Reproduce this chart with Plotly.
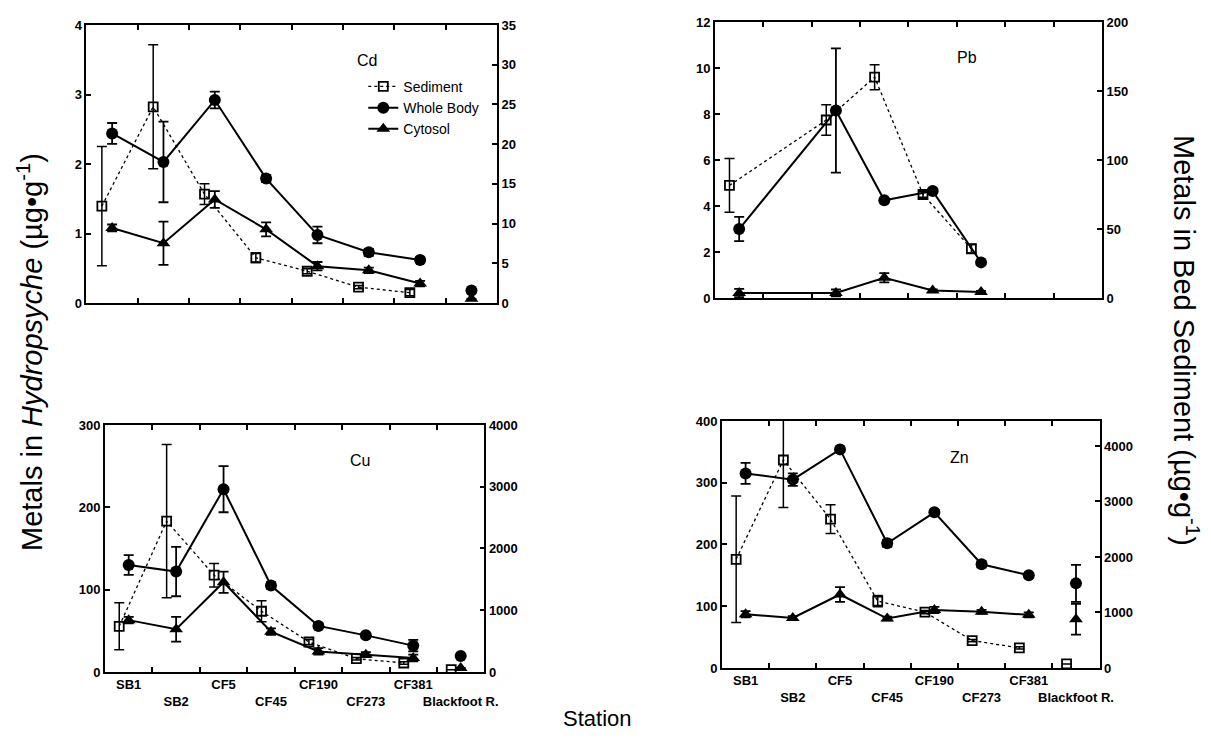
import plotly.graph_objects as go

# Sampling stations along the river (upstream -> downstream, plus reference site)
STATIONS = ["SB1", "SB2", "CF5", "CF45", "CF190", "CF273", "CF381", "Blackfoot R."]

# ---- Cd (Hydropsyche: ug/g, sediment: ug/g) ----
cd_whole = [2.44, 2.03, 2.92, 1.79, 0.98, 0.73, 0.62, 0.18]
cd_whole_err = [0.15, 0.58, 0.12, 0.05, 0.12, 0.05, 0.04, 0.0]
cd_cyto = [1.08, 0.86, 1.49, 1.06, 0.53, 0.47, 0.28, 0.06]
cd_cyto_err = [0.05, 0.31, 0.12, 0.10, 0.06, 0.04, 0.04, 0.0]
cd_sed = [12.2, 24.7, 13.7, 5.7, 4.0, 2.0, 1.3, None]
cd_sed_err = [7.5, 7.8, 1.3, 0.6, 0.3, 0.2, 0.4, 0.0]

# ---- Pb ----
pb_whole = [3.0, None, 8.15, 4.25, 4.65, 1.55, None, None]
pb_whole_err = [0.53, 0.0, 2.7, 0.0, 0.1, 0.0, 0.0, 0.0]
pb_cyto = [0.22, None, 0.22, 0.88, 0.33, 0.26, None, None]
pb_cyto_err = [0.18, 0.0, 0.15, 0.2, 0.05, 0.05, 0.0, 0.0]
pb_sed = [81.6, None, 129.0, 160.0, 75.0, 35.7, None, None]
pb_sed_err = [19.5, 0.0, 11.0, 9.0, 2.0, 3.0, 0.0, 0.0]

# ---- Cu ----
cu_whole = [130, 122, 222, 105, 56, 44.5, 32, 19.5]
cu_whole_err = [12, 30, 28, 4, 3, 3, 7, 0]
cu_cyto = [63, 52, 109, 49, 25, 21, 17, 5]
cu_cyto_err = [4, 15, 13, 4, 4, 3, 4, 0]
cu_sed = [740, 2443, 1568, 984, 486, 216, 146, 38]
cu_sed_err = [380, 1240, 190, 170, 40, 20, 20, 0]

# ---- Zn ----
zn_whole = [315, 305, 354, 202, 252, 168, 150, 137]
zn_whole_err = [17, 10, 4, 6, 4, 5, 3, 30]
zn_cyto = [87, 81, 119, 80, 94, 91, 86, 79]
zn_cyto_err = [5, 3, 12, 3, 5, 3, 4, 25]
zn_sed = [1958, 3747, 2681, 1205, 1006, 494, 361, 72]
zn_sed_err = [1140, 855, 260, 100, 30, 20, 20, 0]

FONT = "Liberation Sans, Arial, Helvetica, sans-serif"
SED_SHIFT = -0.2  # sediment symbols drawn slightly left of each station


def series(vals, errs, shift=0.0):
    """Connect the main-stem stations; keep the reference station separate."""
    xs, ys, es = [], [], []
    for i in range(7):
        if vals[i] is not None:
            xs.append(i + 1 + shift)
            ys.append(vals[i])
            es.append(errs[i])
    if vals[7] is not None:
        xs.append(None)
        ys.append(None)
        es.append(0)
        xs.append(8 + shift)
        ys.append(vals[7])
        es.append(errs[7])
    return xs, ys, es


fig = go.Figure()

panels = [
    # name, x axis, left y, right y, sediment, whole body, cytosol
    ("Cd", "x", "y", "y2", (cd_sed, cd_sed_err), (cd_whole, cd_whole_err), (cd_cyto, cd_cyto_err)),
    ("Pb", "x2", "y3", "y4", (pb_sed, pb_sed_err), (pb_whole, pb_whole_err), (pb_cyto, pb_cyto_err)),
    ("Cu", "x3", "y5", "y6", (cu_sed, cu_sed_err), (cu_whole, cu_whole_err), (cu_cyto, cu_cyto_err)),
    ("Zn", "x4", "y7", "y8", (zn_sed, zn_sed_err), (zn_whole, zn_whole_err), (zn_cyto, zn_cyto_err)),
]

for k, (metal, xa, yl, yr, sed, whole, cyto) in enumerate(panels):
    legend_on = k == 0
    sx, sy, se = series(sed[0], sed[1], SED_SHIFT)
    fig.add_trace(go.Scatter(
        x=sx, y=sy, xaxis=xa, yaxis=yr, name="Sediment", mode="lines+markers",
        line=dict(color="black", width=1.3, dash="dot"),
        marker=dict(symbol="square-open", size=9, color="black", line=dict(width=1.8)),
        error_y=dict(type="data", array=se, color="black", thickness=1.5, width=5),
        showlegend=legend_on, legendrank=1,
    ))
    wx, wy, we = series(whole[0], whole[1])
    fig.add_trace(go.Scatter(
        x=wx, y=wy, xaxis=xa, yaxis=yl, name="Whole Body", mode="lines+markers",
        line=dict(color="black", width=2),
        marker=dict(symbol="circle", size=12, color="black"),
        error_y=dict(type="data", array=we, color="black", thickness=1.8, width=5),
        showlegend=legend_on, legendrank=2,
    ))
    cx, cy, ce = series(cyto[0], cyto[1])
    fig.add_trace(go.Scatter(
        x=cx, y=cy, xaxis=xa, yaxis=yl, name="Cytosol", mode="lines+markers",
        line=dict(color="black", width=2),
        marker=dict(symbol="triangle-up", size=12, color="black"),
        error_y=dict(type="data", array=ce, color="black", thickness=1.8, width=5),
        showlegend=legend_on, legendrank=3,
    ))

tick_font = dict(family=FONT, size=13, color="black", weight="bold")
boundaries = [i + 0.5 for i in range(1, 8)]
positions = list(range(1, 9))
two_row_labels = [s if i % 2 == 0 else "<br>" + s for i, s in enumerate(STATIONS)]


def x_axis(domain, anchor, labels):
    return dict(
        domain=domain, anchor=anchor, range=[0.5, 8.5],
        showline=True, linecolor="black", linewidth=1.8, mirror="ticks",
        tickvals=positions, ticktext=two_row_labels if labels else [""] * 8,
        ticks="", showticklabels=labels, tickfont=tick_font, tickangle=0,
        automargin=False,
        minor=dict(tickvals=boundaries, ticks="inside", ticklen=5, tickcolor="black", tickwidth=1.5),
        showgrid=False, zeroline=False, fixedrange=True,
    )


def y_axis(domain, anchor, rng, dtick, side="left", overlaying=None):
    d = dict(
        range=rng, dtick=dtick, tick0=0, side=side, anchor=anchor,
        showline=True, linecolor="black", linewidth=1.8, automargin=False,
        ticks="inside", ticklen=5, tickwidth=1.5, tickcolor="black",
        tickfont=tick_font, showgrid=False, zeroline=False, fixedrange=True,
    )
    if overlaying:
        d["overlaying"] = overlaying
    else:
        d["domain"] = domain
    return d


W, H = 1211, 746
cd_x, cd_y = [0.0714, 0.4105], [0.5938, 0.9665]
pb_x, pb_y = [0.5904, 0.9100], [0.6005, 0.9705]
cu_x, cu_y = [0.0867, 0.4000], [0.0992, 0.4303]
zn_x, zn_y = [0.5962, 0.9080], [0.1046, 0.4357]

fig.update_layout(
    width=W, height=H,
    margin=dict(l=0, r=0, t=0, b=0, pad=0, autoexpand=False),
    paper_bgcolor="white", plot_bgcolor="white",
    font=dict(family=FONT, color="black"),
    xaxis=x_axis(cd_x, "y", False),
    xaxis2=x_axis(pb_x, "y3", False),
    xaxis3=x_axis(cu_x, "y5", True),
    xaxis4=x_axis(zn_x, "y7", True),
    yaxis=y_axis(cd_y, "x", [0, 4], 1),
    yaxis2=y_axis(None, "x", [0, 35], 5, side="right", overlaying="y"),
    yaxis3=y_axis(pb_y, "x2", [0, 12], 2),
    yaxis4=y_axis(None, "x2", [0, 200], 50, side="right", overlaying="y3"),
    yaxis5=y_axis(cu_y, "x3", [0, 300], 100),
    yaxis6=y_axis(None, "x3", [0, 4000], 1000, side="right", overlaying="y5"),
    yaxis7=y_axis(zn_y, "x4", [0, 400], 100),
    yaxis8=y_axis(None, "x4", [0, 4450], 1000, side="right", overlaying="y7"),
    legend=dict(
        x=0.300, y=0.905, xanchor="left", yanchor="top",
        bgcolor="rgba(0,0,0,0)", borderwidth=0,
        font=dict(family=FONT, size=14, color="black"),
        tracegroupgap=0, itemwidth=30,
    ),
    showlegend=True,
)

# Metal names inside each panel
for metal, xa, fx, fy in [("Cd", "x", 0.683, 0.874), ("Pb", "x2", 0.651, 0.873),
                          ("Cu", "x3", 0.673, 0.858), ("Zn", "x4", 0.63, 0.854)]:
    ya = {"x": "y", "x2": "y3", "x3": "y5", "x4": "y7"}[xa]
    fig.add_annotation(text=metal, xref=f"{xa} domain", yref=f"{ya} domain", x=fx, y=fy,
                       xanchor="center", yanchor="middle",
                       showarrow=False, font=dict(family=FONT, size=16, color="black"))

# Shared axis titles
fig.add_annotation(text="Metals in <i>Hydropsyche</i> (µg•g<sup>-1</sup>)", textangle=-90,
                   xref="paper", yref="paper", x=30 / W, y=1 - 352 / H,
                   xanchor="center", yanchor="middle",
                   showarrow=False, font=dict(family=FONT, size=29, color="black"))
fig.add_annotation(text="Metals in Bed Sediment (µg•g<sup>-1</sup>)", textangle=90,
                   xref="paper", yref="paper", x=1186 / W, y=1 - 340 / H,
                   xanchor="center", yanchor="middle",
                   showarrow=False, font=dict(family=FONT, size=29, color="black"))
fig.add_annotation(text="Station", xref="paper", yref="paper", x=597 / W, y=1 - 718 / H,
                   xanchor="center", yanchor="middle",
                   showarrow=False, font=dict(family=FONT, size=22, color="black"))

fig.write_html("out.html")
